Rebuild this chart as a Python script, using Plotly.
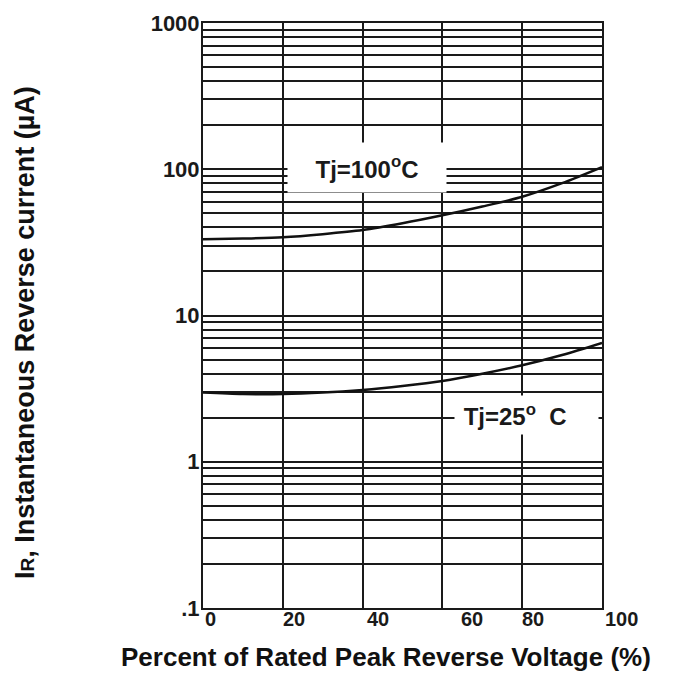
import math
import plotly.graph_objects as go

# ---- data ----
pct_voltage = [0, 10, 20, 30, 40, 50, 60, 70, 80, 90, 100]
ir_100c = [33.2, 33.6, 34.3, 36.0, 38.4, 42.7, 48.4, 55.6, 64.9, 80.4, 103.5]
ir_25c = [2.97, 2.90, 2.90, 2.97, 3.10, 3.30, 3.57, 4.00, 4.57, 5.37, 6.5]

x_grid = [0, 20, 40, 60, 80, 100]
x_tick_text = ["0", "20", "40", "60", "80", "100"]
y_decades = [0.1, 1, 10, 100, 1000]
y_decade_text = [".1", "1", "10", "100", "1000"]

label_100 = "Tj=100<sup>o</sup>C"
label_25 = "\u00a0Tj=25<sup>o</sup>  C"

FONT = "Liberation Sans, Arial, sans-serif"

# minor log grid values (2..9 in every decade)
y_minor = []
for d in y_decades[:-1]:
    for m in range(2, 10):
        y_minor.append(d * m)

fig = go.Figure()
for ys in (ir_100c, ir_25c):
    fig.add_trace(go.Scatter(
        x=pct_voltage, y=ys, mode="lines",
        line=dict(color="#111111", width=2.5, shape="spline", smoothing=0.8),
        showlegend=False, hoverinfo="skip",
    ))

# x tick labels (placed where the reference prints them, as fraction of axis)
x_label_frac = [0.018, 0.228, 0.439, 0.674, 0.827, 1.05]
annotations = []
for xp, t in zip(x_label_frac, x_tick_text):
    annotations.append(dict(
        x=xp, y=0, xref="paper", yref="paper", xanchor="center", yanchor="top",
        yshift=2, text=t, showarrow=False,
        font=dict(family=FONT, size=20, color="#1a1a1a", weight="bold"),
    ))

# curve labels with white boxes
annotations.append(dict(
    x=41.1, y=math.log10(102.8), xref="x", yref="y", text=label_100,
    showarrow=False, width=154, height=45, bgcolor="white", borderpad=2,
    xanchor="center", yanchor="middle",
    font=dict(family=FONT, size=24, color="#1a1a1a", weight="bold"),
))
annotations.append(dict(
    x=81.1, y=math.log10(2.09), xref="x", yref="y", text=label_25,
    showarrow=False, width=139, height=34, bgcolor="white", borderpad=2,
    align="left", xanchor="center", yanchor="middle",
    font=dict(family=FONT, size=24, color="#1a1a1a", weight="bold"),
))

# axis titles
annotations.append(dict(
    x=0.459, y=-0.0838, xref="paper", yref="paper", xanchor="center",
    yanchor="middle",
    text="Percent of Rated Peak Reverse Voltage (%)", showarrow=False,
    font=dict(family=FONT, size=26, color="#111111", weight="bold"),
))
annotations.append(dict(
    x=-0.446, y=0.47, xref="paper", yref="paper", textangle=-90,
    xanchor="center", yanchor="middle",
    text="I<span style='font-size:19px'>R</span>, Instantaneous Reverse current (\u00b5A)",
    showarrow=False,
    font=dict(family=FONT, size=27, color="#111111", weight="bold"),
))

GRID = "#1a1a1a"
fig.update_layout(
    width=676, height=673, autosize=False,
    margin=dict(l=195, r=82, t=15, b=73),
    paper_bgcolor="white", plot_bgcolor="white",
    annotations=annotations,
    xaxis=dict(
        range=[0, 100], tickvals=x_grid, showticklabels=False, ticks="",
        showgrid=True, gridcolor=GRID, gridwidth=1.6, automargin=False,
        showline=True, mirror=True, linecolor=GRID, linewidth=2,
        zeroline=False,
    ),
    yaxis=dict(
        type="log", range=[-1, 3], tickvals=y_decades, ticktext=y_decade_text,
        ticks="", showgrid=True, gridcolor=GRID, gridwidth=1.6,
        automargin=False, ticklabelstandoff=-3,
        minor=dict(tickvals=y_minor, showgrid=True, gridcolor=GRID,
                   gridwidth=1.6, ticks=""),
        showline=True, mirror=True, linecolor=GRID, linewidth=2,
        zeroline=False,
        tickfont=dict(family=FONT, size=22, color="#1a1a1a", weight="bold"),
    ),
)

fig.write_html("out.html")
